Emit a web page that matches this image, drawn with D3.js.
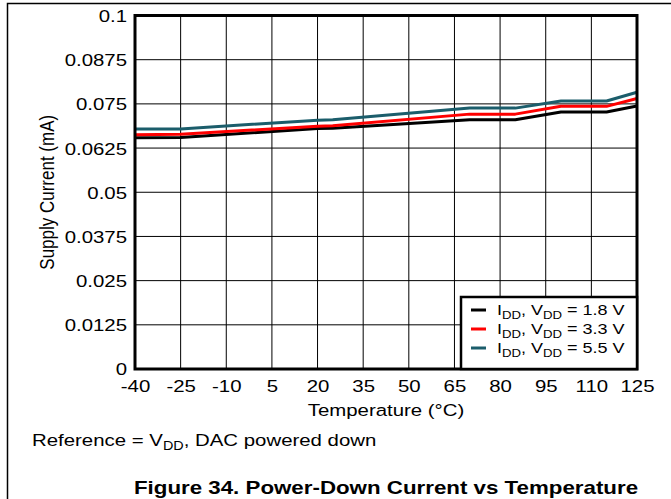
<!DOCTYPE html>
<html><head><meta charset="utf-8">
<script src="https://cdn.jsdelivr.net/npm/d3@7"></script>
<style>html,body{margin:0;padding:0;background:#fff}svg{display:block}text{font-family:"Liberation Sans",Arial,sans-serif;fill:#000}</style>
</head><body>
<script>
const temps = [-40, -25, 20, 25, 70, 85, 100, 115, 125];
const idd18 = [0.0654, 0.0655, 0.0680, 0.0681, 0.0705, 0.0705, 0.0727, 0.0727, 0.0744];
const idd33 = [0.0663, 0.0664, 0.0687, 0.0688, 0.0721, 0.0721, 0.0743, 0.0743, 0.0765];
const idd55 = [0.0679, 0.0679, 0.0704, 0.0705, 0.0738, 0.0738, 0.0758, 0.0758, 0.0783];
const xTicks = [-40, -25, -10, 5, 20, 35, 50, 65, 80, 95, 110, 125];
const yTicks = [0, 0.0125, 0.025, 0.0375, 0.05, 0.0625, 0.075, 0.0875, 0.1];
const yTickLabels = ["0", "0.0125", "0.025", "0.0375", "0.05", "0.0625", "0.075", "0.0875", "0.1"];
const seriesNames = ["1.8 V", "3.3 V", "5.5 V"];
const seriesColors = ["#000000", "#ff0000", "#1b5d6b"];
const series = [idd18, idd33, idd55];

const W = 671, H = 499;
const SX = 1.2; // horizontal text stretch seen in the reference
const m = {left: 135, right: 637, top: 15.5, bottom: 369};
const svg = d3.select("body").append("svg").attr("width", W).attr("height", H);

// outer frame
svg.append("path").attr("d", `M7.5,${H} V3.5 H${W}`).attr("fill", "none").attr("stroke", "#000").attr("stroke-width", 1.5);

const x = d3.scaleLinear().domain([-40, 125]).range([m.left, m.right]);
const y = d3.scaleLinear().domain([0, 0.1]).range([m.bottom, m.top]);

// grid
svg.append("g").selectAll("line").data(xTicks).join("line")
  .attr("x1", d => x(d)).attr("x2", d => x(d)).attr("y1", m.top).attr("y2", m.bottom)
  .attr("stroke", "#000").attr("stroke-width", 1);
svg.append("g").selectAll("line").data(yTicks).join("line")
  .attr("x1", m.left).attr("x2", m.right).attr("y1", d => y(d)).attr("y2", d => y(d))
  .attr("stroke", "#000").attr("stroke-width", 1);

// axes labels
const xAxis = d3.axisBottom(x).tickValues(xTicks).tickSize(0).tickPadding(0).tickFormat(d => String(d));
const gx = svg.append("g").attr("transform", `translate(0,${m.bottom})`).call(xAxis);
gx.select(".domain").remove();
gx.selectAll("text").attr("font-size", 17).attr("dy", null).attr("y", 0).attr("font-family", null)
  .attr("transform", `translate(0,23) scale(${SX},1)`);

const yAxis = d3.axisLeft(y).tickValues(yTicks).tickSize(0).tickPadding(0).tickFormat((d, i) => yTickLabels[i]);
const gy = svg.append("g").attr("transform", `translate(${m.left},0)`).call(yAxis);
gy.select(".domain").remove();
gy.selectAll("text").attr("font-size", 17).attr("x", 0).attr("dy", "0.35em").attr("font-family", null)
  .attr("transform", `translate(-8,0) scale(${SX},1)`);

// lines
const line = d3.line().x((d, i) => x(temps[i])).y(d => y(d));
svg.append("g").selectAll("path").data(series).join("path")
  .attr("d", d => line(d)).attr("fill", "none")
  .attr("stroke", (d, i) => seriesColors[i]).attr("stroke-width", 3).attr("stroke-linejoin", "round");

// plot border
svg.append("rect").attr("x", m.left).attr("y", m.top).attr("width", m.right - m.left).attr("height", m.bottom - m.top)
  .attr("fill", "none").attr("stroke", "#000").attr("stroke-width", 3);

// legend
const lg = svg.append("g");
lg.append("rect").attr("x", 461).attr("y", 297).attr("width", 176).attr("height", 72)
  .attr("fill", "#fff").attr("stroke", "#000").attr("stroke-width", 2.5);
seriesNames.forEach((nm, i) => {
  const yy = 315 + i * 19;
  lg.append("line").attr("x1", 471).attr("x2", 486).attr("y1", yy - 5).attr("y2", yy - 5)
    .attr("stroke", seriesColors[i]).attr("stroke-width", 3);
  const t = lg.append("text").attr("transform", `translate(497,${yy}) scale(${SX},1)`).attr("font-size", 15);
  t.append("tspan").text("I");
  t.append("tspan").attr("font-size", 11).attr("dy", 3.5).text("DD");
  t.append("tspan").attr("dy", -3.5).text(", V");
  t.append("tspan").attr("font-size", 11).attr("dy", 3.5).text("DD");
  t.append("tspan").attr("dy", -3.5).text(" = " + nm);
});

// axis titles
svg.append("text").attr("transform", `translate(${(m.left + m.right) / 2},416) scale(${SX},1)`).attr("text-anchor", "middle")
  .attr("font-size", 17).text("Temperature (°C)");
svg.append("text").attr("transform", `translate(54,${(m.top + m.bottom) / 2}) scale(${SX},1) rotate(-90)`)
  .attr("text-anchor", "middle").attr("font-size", 17).text("Supply Current (mA)");

// caption
const cap = svg.append("text").attr("transform", `translate(32,446) scale(${SX},1)`).attr("font-size", 17);
cap.append("tspan").text("Reference = V");
cap.append("tspan").attr("font-size", 12).attr("dy", 4).text("DD");
cap.append("tspan").attr("dy", -4).text(", DAC powered down");

svg.append("text").attr("transform", `translate(386,494) scale(1.24,1)`).attr("text-anchor", "middle")
  .attr("font-size", 18).attr("font-weight", "bold").text("Figure 34. Power-Down Current vs Temperature");
</script>
</body></html>
